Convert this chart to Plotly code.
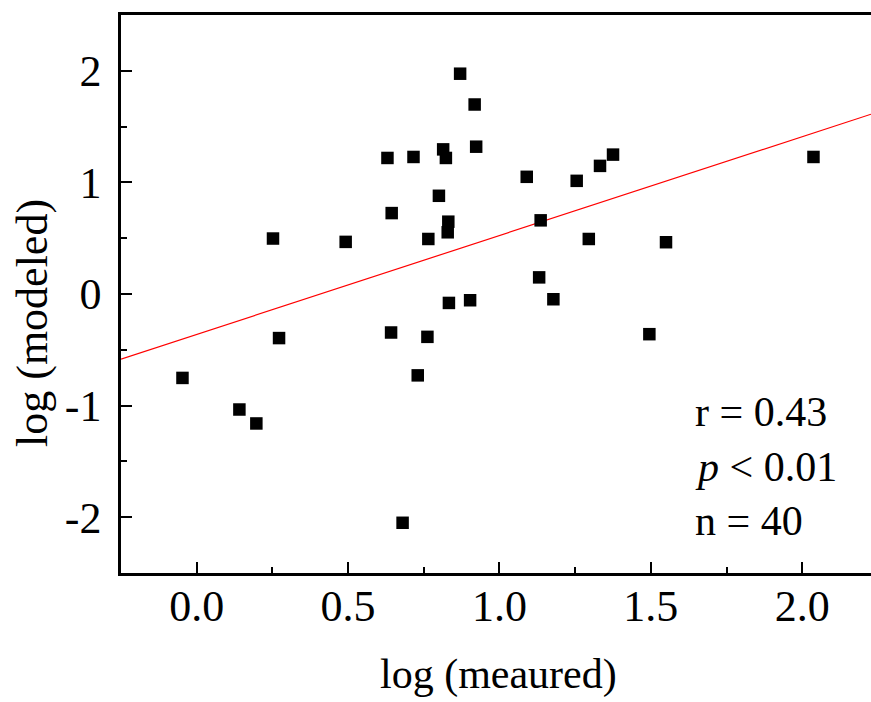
import plotly.graph_objects as go

# Data
log_measured = [0.870, 0.918, 0.923, 0.630, 0.716, 0.814, 0.823, 1.090, 1.255, 1.332,
                1.375, 0.800, 0.644, 0.831, 0.829, 0.765, 1.136, 1.295, 1.550, 1.131,
                1.178, 0.833, 0.903, 2.037, 1.495, -0.047, 0.141, 0.197, 0.272, 0.642,
                0.680, 0.252, 0.492, 0.762, 0.730]
log_modeled = [1.974, 1.698, 1.320, 1.219, 1.228, 1.296, 1.219, 1.050, 1.014, 1.148,
               1.249, 0.880, 0.725, 0.648, 0.553, 0.493, 0.660, 0.493, 0.464, 0.149,
               -0.047, -0.080, -0.056, 1.228, -0.360, -0.752, -1.035, -1.160, -0.395, -0.345,
               -2.050, 0.497, 0.467, -0.384, -0.729]

fit_slope = 0.886
fit_intercept = -0.362
fit_x = [-0.25, 2.227]
fit_y = [fit_slope * v + fit_intercept for v in fit_x]

x_ticks = [0.0, 0.5, 1.0, 1.5, 2.0]
x_tick_text = ["0.0", "0.5", "1.0", "1.5", "2.0"]
y_ticks = [-2, -1, 0, 1, 2]
y_tick_text = ["-2", "-1", "0", "1", "2"]

stats_lines = ["r = 0.43", "<i>p</i> < 0.01", "n = 40"]

FONT = "Liberation Serif, Times New Roman, serif"

fig = go.Figure()
fig.add_trace(go.Scatter(x=fit_x, y=fit_y, mode="lines",
                         line=dict(color="#ff0000", width=1.2), showlegend=False))
fig.add_trace(go.Scatter(x=log_measured, y=log_modeled, mode="markers",
                         marker=dict(symbol="square", size=12.5, color="black",
                                     line=dict(width=0)), showlegend=False))

fig.update_layout(
    width=871, height=702,
    margin=dict(l=121, r=0, t=15, b=129),
    paper_bgcolor="white", plot_bgcolor="white",
    font=dict(family=FONT, size=44, color="black"),
    showlegend=False,
)
fig.update_xaxes(
    range=[-0.25, 2.227], tickvals=x_ticks, ticktext=x_tick_text,
    ticks="inside", ticklen=11, tickwidth=2, tickcolor="black",
    minor=dict(dtick=0.25, tick0=0, ticks="inside", ticklen=6, tickwidth=2, tickcolor="black"),
    showline=True, linewidth=2.5, linecolor="black", mirror=True,
    showgrid=False, zeroline=False, ticklabelstandoff=-8,
    tickfont=dict(family=FONT, size=44),
)
fig.update_yaxes(
    range=[-2.5, 2.5], tickvals=y_ticks, ticktext=y_tick_text,
    ticks="inside", ticklen=11, tickwidth=2, tickcolor="black",
    minor=dict(dtick=0.5, tick0=0, ticks="inside", ticklen=6, tickwidth=2, tickcolor="black"),
    showline=True, linewidth=2.5, linecolor="black", mirror=False,
    showgrid=False, zeroline=False, ticklabelstandoff=8,
    tickfont=dict(family=FONT, size=44),
)

# Axis titles as annotations for exact placement
fig.add_annotation(text="log (meaured)", xref="paper", yref="paper",
                   x=0.5027, y=-0.1825, xanchor="center", yanchor="middle",
                   showarrow=False, font=dict(family=FONT, size=42))
fig.add_annotation(text="log (modeled)", xref="paper", yref="paper",
                   x=-0.1187, y=0.448, xanchor="center", yanchor="middle",
                   textangle=-90, showarrow=False, font=dict(family=FONT, size=44))

stat_y = [0.288, 0.190, 0.094]
for txt, yy in zip(stats_lines, stat_y):
    fig.add_annotation(text=txt, xref="paper", yref="paper", x=0.7627, y=yy,
                       xanchor="left", yanchor="middle", showarrow=False,
                       font=dict(family=FONT, size=42))

fig.write_html(
    "out.html",
    config={"displayModeBar": False},
    post_script="document.body.style.margin='0';document.body.style.padding='0';"
                "document.body.style.overflow='hidden';",
)
